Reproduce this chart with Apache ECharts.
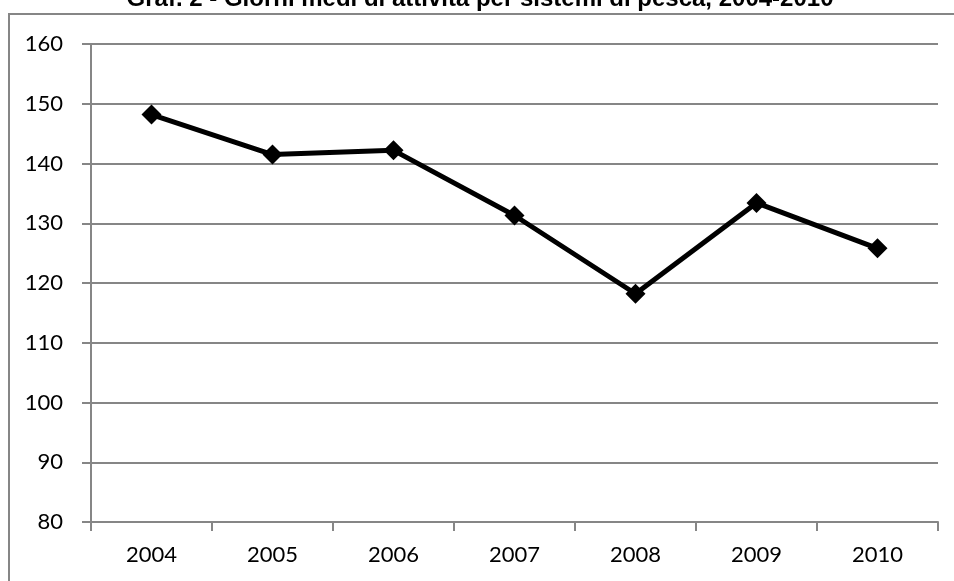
<!DOCTYPE html>
<html>
<head>
<meta charset="utf-8">
<script src="https://cdn.jsdelivr.net/npm/echarts@6/dist/echarts.min.js"></script>
<style>
  html, body { margin: 0; padding: 0; background: #fff; }
  #chart { width: 954px; height: 581px; }
</style>
</head>
<body>
<div id="chart"></div>
<script>
// Average days of activity per year
const years = ['2004', '2005', '2006', '2007', '2008', '2009', '2010'];
const giorniMedi = [148.2, 141.5, 142.2, 131.3, 118.2, 133.4, 125.8];
const yTicks = { min: 80, max: 160, step: 10 };
const titolo = 'Graf. 2 - Giorni medi di attività per sistemi di pesca, 2004-2010';

const gray = '#868686';
const labelFont = 'Lato';

const chart = echarts.init(document.getElementById('chart'), null, { renderer: 'canvas' });
chart.setOption({
  animation: false,
  backgroundColor: '#fff',
  graphic: [
    {
      type: 'rect',
      shape: { x: 9, y: 14, width: 1200, height: 1200 },
      style: { fill: 'none', stroke: gray, lineWidth: 2 },
      silent: true
    },
    {
      type: 'text',
      x: 480,
      y: 11,
      style: {
        text: titolo,
        font: 'bold 24px "Liberation Sans", Arial, sans-serif',
        fill: '#000',
        align: 'center',
        verticalAlign: 'bottom'
      },
      silent: true
    }
  ],
  grid: { left: 91, right: 16, top: 44, bottom: 59, containLabel: false },
  xAxis: {
    type: 'category',
    data: years,
    boundaryGap: true,
    axisLine: { show: true, lineStyle: { color: gray, width: 2 } },
    axisTick: { show: true, inside: false, length: 9, alignWithLabel: false, lineStyle: { color: gray, width: 2 } },
    axisLabel: { color: '#000', fontFamily: labelFont, fontSize: 22, margin: 22 },
    splitLine: { show: false }
  },
  yAxis: {
    type: 'value',
    min: yTicks.min,
    max: yTicks.max,
    interval: yTicks.step,
    axisLine: { show: true, lineStyle: { color: gray, width: 2 } },
    axisTick: { show: true, inside: false, length: 9, lineStyle: { color: gray, width: 2 } },
    axisLabel: { color: '#000', fontFamily: labelFont, fontSize: 22, margin: 28 },
    splitLine: { show: true, lineStyle: { color: gray, width: 2 } }
  },
  series: [{
    type: 'line',
    data: giorniMedi,
    symbol: 'diamond',
    symbolSize: 20,
    showSymbol: true,
    lineStyle: { color: '#000', width: 5 },
    itemStyle: { color: '#000', borderWidth: 0 },
    z: 3
  }]
});
</script>
</body>
</html>
